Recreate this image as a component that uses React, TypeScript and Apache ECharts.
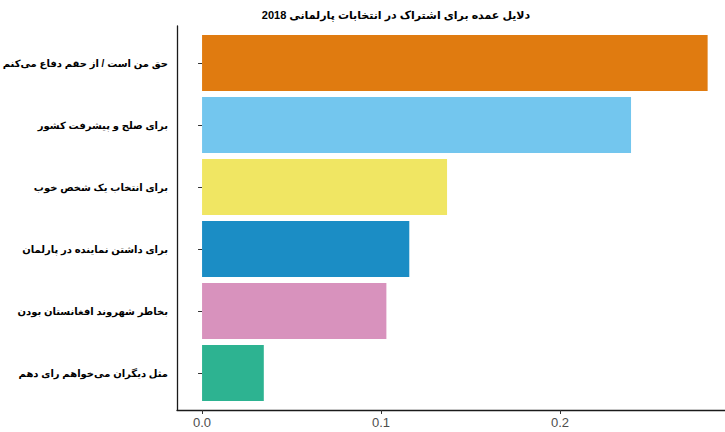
import React, { useEffect, useRef } from "react";
import * as echarts from "echarts";

const titleText = "دلایل عمده برای اشتراک در انتخابات پارلمانی 2018";
const categories = [
  "حق من است / از حقم دفاع می‌کنم",
  "برای صلح و پیشرفت کشور",
  "برای انتخاب یک شخص خوب",
  "برای داشتن نماینده در پارلمان",
  "بخاطر شهروند افغانستان بودن",
  "مثل دیگران می‌خواهم رای دهم",
];
const values = [0.2825, 0.2397, 0.1369, 0.1158, 0.103, 0.0345];
const colors = ["#E07B10", "#73C6EE", "#F0E663", "#1B8DC5", "#D892BD", "#2DB391"];
const xTicks = [0, 0.1, 0.2];
const xMin = -0.014;
const xMax = 0.295;

const FONT = "'Liberation Sans', Arial, 'DejaVu Sans', sans-serif";

export default function App() {
  const ref = useRef<HTMLDivElement>(null);
  useEffect(() => {
    document.body.style.margin = "0";
    const chart = echarts.init(ref.current!, null, { renderer: "svg" });
    chart.setOption({
      animation: false,
      backgroundColor: "#ffffff",
      title: {
        text: titleText,
        left: 391,
        top: 4,
        textAlign: "center",
        textStyle: { fontFamily: FONT, fontSize: 11, fontWeight: "bold", color: "#000" },
      },
      grid: [
        { left: 177, width: 553, top: 32, height: 372, containLabel: false, outerBoundsMode: "none" },
        { left: 177, width: 553, top: 26, height: 384, containLabel: false, outerBoundsMode: "none" },
      ],
      xAxis: [
        { type: "value", gridIndex: 0, min: xMin, max: xMax, show: false },
        {
          type: "value",
          gridIndex: 1,
          min: xMin,
          max: xMax,
          axisLine: { show: true, onZero: false, lineStyle: { color: "#1a1a1a", width: 1.3 } },
          axisTick: { show: true, length: 4, customValues: xTicks, lineStyle: { color: "#333" } },
          axisLabel: {
            customValues: xTicks,
            formatter: (v: number) => v.toFixed(1),
            color: "#4D4D4D",
            fontFamily: FONT,
            fontSize: 13,
            margin: 6,
          },
          splitLine: { show: false },
        },
      ],
      yAxis: [
        {
          type: "category",
          gridIndex: 0,
          data: categories,
          inverse: true,
          axisLine: { show: false },
          axisTick: { show: true, alignWithLabel: true, length: 4, lineStyle: { color: "#333" } },
          axisLabel: {
            color: "#000",
            fontFamily: FONT,
            fontWeight: "bold",
            fontSize: 10,
            margin: 9,
          },
        },
        {
          type: "value",
          gridIndex: 1,
          min: 0,
          max: 1,
          axisLine: { show: true, onZero: false, lineStyle: { color: "#1a1a1a", width: 1.3 } },
          axisTick: { show: false },
          axisLabel: { show: false },
          splitLine: { show: false },
        },
      ],
      series: [
        {
          type: "bar",
          xAxisIndex: 0,
          yAxisIndex: 0,
          barWidth: "90%",
          data: values.map((v, i) => ({ value: v, itemStyle: { color: colors[i] } })),
        },
        { type: "scatter", xAxisIndex: 1, yAxisIndex: 1, data: [] },
      ],
    });
    return () => chart.dispose();
  }, []);
  return <div ref={ref} style={{ width: 725, height: 432 }} />;
}
